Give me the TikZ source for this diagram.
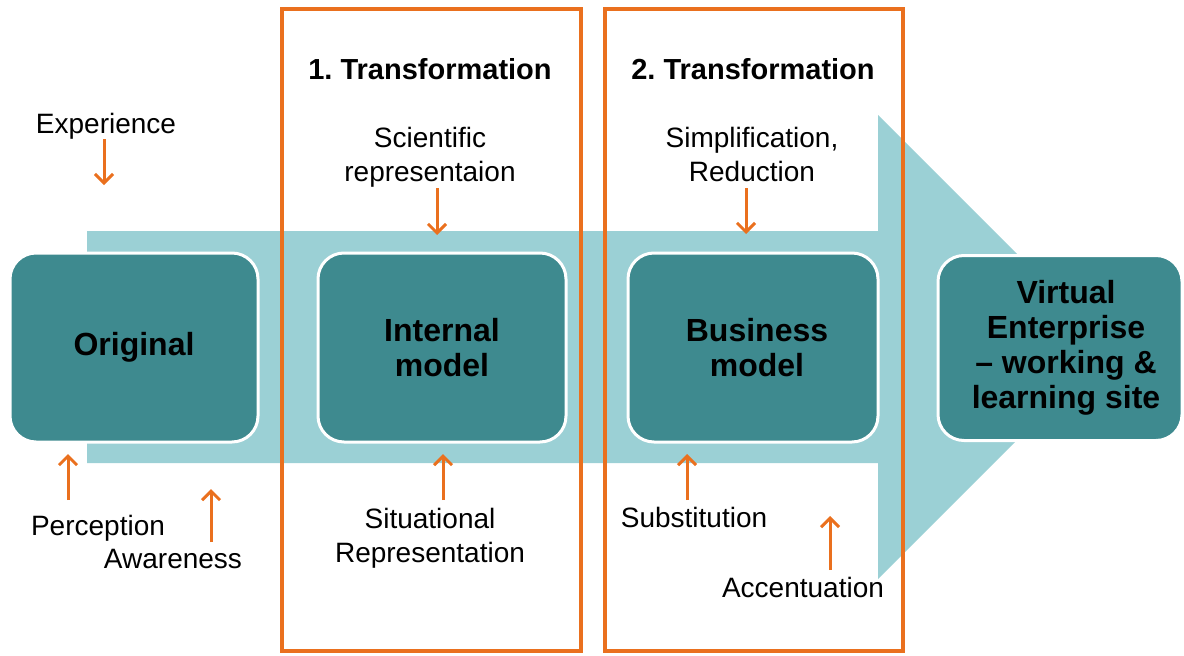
\documentclass[tikz,border=0pt]{standalone}
\usepackage{fontspec}
\setmainfont{Liberation Sans}
\frenchspacing
\usetikzlibrary{arrows.meta}
\definecolor{boxteal}{RGB}{62,138,143}
\definecolor{flowteal}{RGB}{155,208,213}
\definecolor{frameorange}{RGB}{234,112,30}
\begin{document}
\begin{tikzpicture}[x=1pt,y=-1pt,
  stagebox/.style={draw=white, line width=3pt, fill=boxteal, rounded corners=26pt,
    font=\bfseries\fontsize{32}{35}\selectfont, align=center, text=black, inner sep=0pt},
  stageframe/.style={draw=frameorange, line width=4pt, inner sep=0pt},
  heading/.style={font=\bfseries\fontsize{29}{34}\selectfont, anchor=base, inner sep=0pt},
  cuetext/.style={font=\fontsize{28}{34}\selectfont, align=center, anchor=base, inner sep=0pt},
  cue/.style={draw=frameorange, line width=3pt, -{Straight Barb[length=9pt,width=18pt]}}
]
\useasboundingbox (0,0) rectangle (1184,656);
% big flow arrow
\fill[flowteal] (87,231) -- (878,231) -- (878,115) -- (1110,347) -- (878,579) -- (878,463) -- (87,463) -- cycle;
% transformation frames
\node[stageframe, minimum width=299pt, minimum height=642pt] (frame1) at (431.5,330) {};
\node[stageframe, minimum width=298pt, minimum height=642pt] (frame2) at (754,330) {};
\node[heading] (head1) at (430,79) {1. Transformation};
\node[heading] (head2) at (753,79) {2. Transformation};
% stage boxes
\node[stagebox, minimum width=248pt, minimum height=189pt] (orig) at (134,347.5) {Original};
\node[stagebox, minimum width=248pt, minimum height=189pt] (internal) at (442,347.5) {Internal\\model};
\node[stagebox, minimum width=250pt, minimum height=189pt] (business) at (753,347.5) {\hspace*{8pt}Business\\\hspace*{8pt}model};
\node[stagebox, minimum width=244pt, minimum height=185pt] (virtual) at (1060,348) {\hspace*{12pt}Virtual\\\hspace*{12pt}Enterprise\\\hspace*{12pt}– working \&\\\hspace*{12pt}learning site};
% cue labels
\node[cuetext] (exp) at (106,133) {Experience};
\node[cuetext] (sci) at (430,181) {Scientific\\representaion};
\node[cuetext] (simp) at (752,181) {Simplification,\\Reduction};
\node[cuetext] (perc) at (98,535) {Perception};
\node[cuetext] (aware) at (173,568) {Awareness};
\node[cuetext] (sit) at (430,562) {Situational\\Representation};
\node[cuetext] (subst) at (694,527) {Substitution};
\node[cuetext] (accent) at (803,597) {Accentuation};
% cue arrows
\coordinate (expA) at (104,139);   \coordinate (expB) at (104,185);
\coordinate (sciA) at (437,188);   \coordinate (sciB) at (437,235);
\coordinate (simpA) at (746,188);  \coordinate (simpB) at (746,234);
\coordinate (percA) at (68,500);   \coordinate (percB) at (68,454);
\coordinate (awareA) at (211,542); \coordinate (awareB) at (211,489);
\coordinate (sitA) at (443,500);   \coordinate (sitB) at (443,454);
\coordinate (substA) at (687,500); \coordinate (substB) at (687,454);
\coordinate (accentA) at (830,570);\coordinate (accentB) at (830,516);
\draw[cue] (expA) -- (expB);
\draw[cue] (sciA) -- (sciB);
\draw[cue] (simpA) -- (simpB);
\draw[cue] (percA) -- (percB);
\draw[cue] (awareA) -- (awareB);
\draw[cue] (sitA) -- (sitB);
\draw[cue] (substA) -- (substB);
\draw[cue] (accentA) -- (accentB);
\end{tikzpicture}
\end{document}
